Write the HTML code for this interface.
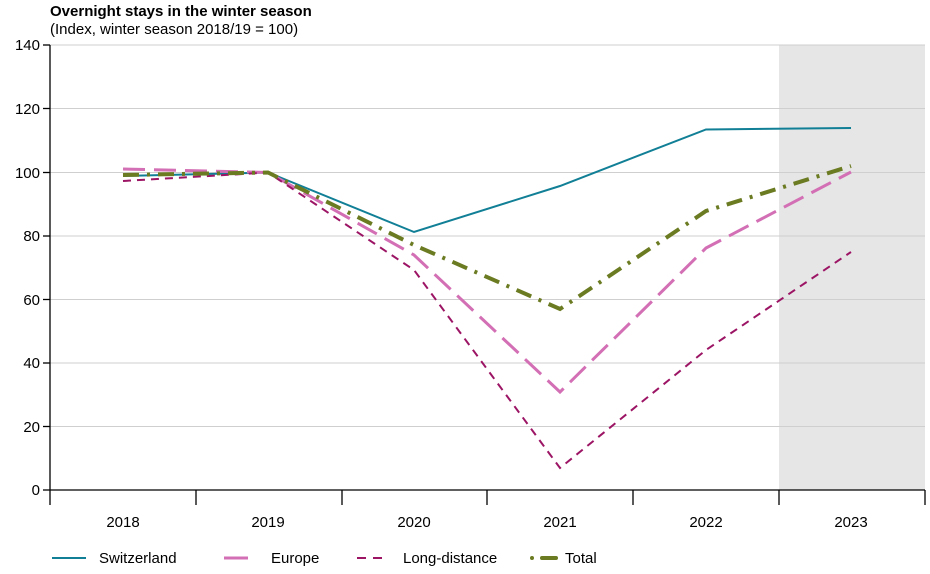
<!DOCTYPE html>
<html><head><style>
body{margin:0;background:#fff;font-family:"Liberation Sans",sans-serif;}
</style></head><body>
<svg width="930" height="569" xmlns="http://www.w3.org/2000/svg" font-family="Liberation Sans, sans-serif">
<rect x="779" y="45" width="146" height="445" fill="#e6e6e6"/>
<g stroke="#cfcfcf" stroke-width="1">
<line x1="50" x2="925" y1="45" y2="45"/><line x1="50" x2="925" y1="108.5" y2="108.5"/>
<line x1="50" x2="925" y1="172.5" y2="172.5"/><line x1="50" x2="925" y1="236" y2="236"/>
<line x1="50" x2="925" y1="299.5" y2="299.5"/><line x1="50" x2="925" y1="363" y2="363"/>
<line x1="50" x2="925" y1="426.5" y2="426.5"/>
</g>
<g stroke="#000" stroke-width="1.3">
<line x1="50" y1="45" x2="50" y2="490"/><line x1="50" y1="490" x2="925" y2="490"/>
<line x1="43" x2="50" y1="45" y2="45"/><line x1="43" x2="50" y1="108.5" y2="108.5"/>
<line x1="43" x2="50" y1="172.5" y2="172.5"/><line x1="43" x2="50" y1="236" y2="236"/>
<line x1="43" x2="50" y1="299.5" y2="299.5"/><line x1="43" x2="50" y1="363" y2="363"/>
<line x1="43" x2="50" y1="426.5" y2="426.5"/><line x1="43" x2="50" y1="490" y2="490"/>
<line x1="50" x2="50" y1="490" y2="505"/><line x1="196" x2="196" y1="490" y2="505"/>
<line x1="342" x2="342" y1="490" y2="505"/><line x1="487" x2="487" y1="490" y2="505"/>
<line x1="633" x2="633" y1="490" y2="505"/><line x1="779" x2="779" y1="490" y2="505"/>
<line x1="925" x2="925" y1="490" y2="505"/>
</g>
<g font-size="15" text-anchor="end" fill="#000">
<text x="40" y="50">140</text><text x="40" y="114">120</text><text x="40" y="178">100</text>
<text x="40" y="241">80</text><text x="40" y="305">60</text><text x="40" y="368">40</text>
<text x="40" y="432">20</text><text x="40" y="495">0</text>
</g>
<g font-size="15" text-anchor="middle">
<text x="123" y="527">2018</text><text x="268" y="527">2019</text><text x="414" y="527">2020</text>
<text x="560" y="527">2021</text><text x="706" y="527">2022</text><text x="851" y="527">2023</text>
</g>
<text x="50" y="16" font-size="15" font-weight="bold">Overnight stays in the winter season</text>
<text x="50" y="34" font-size="15">(Index, winter season 2018/19 = 100)</text>
<polyline fill="none" stroke="#117f96" stroke-width="2" points="123,176 268,172.5 414,232 560,186 706,129.5 851,128"/>
<polyline fill="none" stroke="#d36fb4" stroke-width="3" stroke-dasharray="22,9" points="123,169 268,172.5 414,255 560,392 706,248 851,172"/>
<polyline fill="none" stroke="#9c1565" stroke-width="2" stroke-dasharray="8,6" points="123,181 268,172.5 414,270 560,468 706,350 851,252"/>
<polyline fill="none" stroke="#6b7b22" stroke-width="4" stroke-dasharray="16,8,3,8" points="123,175 268,172.5 414,245 560,309 706,211 851,166"/>
<g font-size="15">
<line x1="52" x2="86" y1="558" y2="558" stroke="#117f96" stroke-width="2"/>
<text x="99" y="563">Switzerland</text>
<line x1="224" x2="248" y1="558" y2="558" stroke="#d36fb4" stroke-width="3"/>
<text x="271" y="563">Europe</text>
<line x1="357" x2="366" y1="558" y2="558" stroke="#9c1565" stroke-width="2"/>
<line x1="373" x2="382" y1="558" y2="558" stroke="#9c1565" stroke-width="2"/>
<text x="403" y="563">Long-distance</text>
<circle cx="304" cy="558" r="0" />
<circle cx="532" cy="558" r="2" fill="#6b7b22"/>
<line x1="542" x2="556" y1="558" y2="558" stroke="#6b7b22" stroke-width="4" stroke-linecap="round"/>
<text x="565" y="563">Total</text>
</g>
</svg>
</body></html>
